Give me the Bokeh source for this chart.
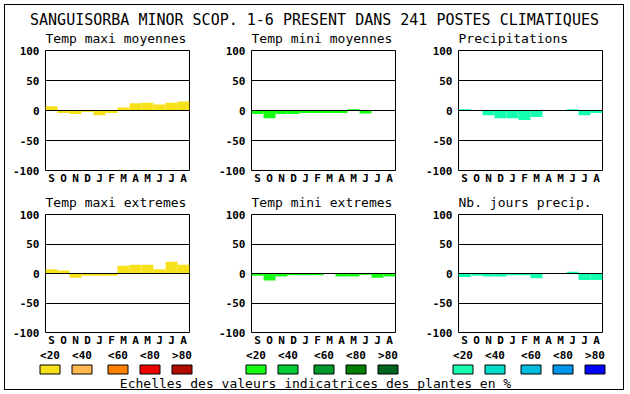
from bokeh.plotting import figure
from bokeh.layouts import column, row
from bokeh.models import FixedTicker, Range1d
from bokeh.embed import file_html
from bokeh.resources import INLINE
from bokeh.core.properties import value

# ---------------- data ----------------
main_title = "SANGUISORBA MINOR SCOP. 1-6 PRESENT DANS 241 POSTES CLIMATIQUES"
months = ["S", "O", "N", "D", "J", "F", "M", "A", "M", "J", "J", "A"]
panel_titles = ["Temp maxi moyennes", "Temp mini moyennes", "Precipitations",
                "Temp maxi extremes", "Temp mini extremes", "Nb. jours precip."]
temp_maxi_moy = [7, -4, -6, -2, -8, -4, 5, 12, 13, 10, 13, 15]
temp_mini_moy = [-6, -13, -6, -6, -4, -4, -4, -4, 2, -5, 0, 0]
precipitations = [2, 0, -8, -13, -13, -16, -11, 0, 0, 2, -8, -4]
temp_maxi_ext = [7, 5, -7, -4, -4, -4, 13, 15, 15, 7, 20, 15]
temp_mini_ext = [-4, -12, -5, -3, -3, -3, 0, -5, -5, -2, -7, -5]
nb_jours_precip = [-6, -4, -5, -5, -3, -3, -8, 0, 0, 3, -11, -11]
y_ticks = [-100, -50, 0, 50, 100]
grid_ticks = [-50, 0, 50]
scale_labels = ["<20", "<40", "<60", "<80", ">80"]
warm_scale = ["#F7E11B", "#FFB950", "#FF8000", "#EE0000", "#B00C00"]
green_scale = ["#14FF14", "#00CC33", "#00992E", "#007F00", "#006420"]
blue_scale = ["#14FFB0", "#00DDCC", "#00BBDD", "#0096EE", "#0000FF"]
footer = "Echelles des valeurs indicatrices des plantes en %"

FONT = "DejaVu Sans Mono"

# ---------------- layout constants (pixels) ----------------
TOTAL_W = 628
HEADER_H = 46          # main title + first row of panel titles
STRIP2_H = 22          # second row of panel titles
FRAME_W, FRAME_H = 144, 120
col_widths = [215, 207, 206]
col_left = [45, 36, 36]
col_right = [26, 27, 26]
row_top = [4, 4]
row_bottom = [18, 15]
LEGEND_H = 45

frame_lefts = []
_x = 0
for _ci in range(3):
    frame_lefts.append(_x + col_left[_ci])
    _x += col_widths[_ci]


def text_strip(y0, h):
    f = figure(width=TOTAL_W, height=h, title=None,
               x_range=Range1d(0, TOTAL_W), y_range=Range1d(y0 + h, y0),
               output_backend="svg", toolbar_location=None,
               x_axis_location=None, y_axis_location=None,
               min_border=0, outline_line_color=None,
               background_fill_color=None, border_fill_color=None)
    f.grid.visible = False
    return f


def make_panel(vals, color, ci, ri):
    p = figure(width=col_widths[ci], height=row_top[ri] + FRAME_H + row_bottom[ri],
               title=None,
               x_range=Range1d(0, 12), y_range=Range1d(-100, 100),
               output_backend="svg", toolbar_location=None,
               min_border_left=col_left[ci], min_border_right=col_right[ci],
               min_border_top=row_top[ri], min_border_bottom=row_bottom[ri])

    centers = [i + 0.5 for i in range(len(months))]
    p.vbar(x=centers, top=vals, bottom=0, width=1.0,
           fill_color=color, line_color=None)

    p.outline_line_color = "black"
    p.outline_line_width = 1
    p.background_fill_color = "white"
    p.border_fill_color = None

    p.xgrid.visible = False
    p.ygrid.ticker = FixedTicker(ticks=grid_ticks)
    p.ygrid.grid_line_color = "black"
    p.ygrid.grid_line_width = 1
    p.ygrid.level = "overlay"

    xa = p.xaxis[0]
    xa.ticker = FixedTicker(ticks=centers)
    xa.major_label_overrides = {c: m for c, m in zip(centers, months)}
    xa.axis_line_color = None
    xa.major_tick_line_color = None
    xa.minor_tick_line_color = None
    xa.major_tick_out = 0
    xa.major_tick_in = 0
    xa.minor_tick_out = 0
    xa.minor_tick_in = 0
    xa.major_label_standoff = 1
    xa.major_label_text_font = FONT
    xa.major_label_text_font_size = "11px"
    xa.major_label_text_font_style = "bold"
    xa.major_label_text_color = "black"

    ya = p.yaxis[0]
    ya.ticker = FixedTicker(ticks=y_ticks)
    ya.major_label_overrides = {t: str(t) for t in y_ticks}
    ya.axis_line_color = None
    ya.major_tick_line_color = None
    ya.minor_tick_line_color = None
    ya.major_tick_out = 0
    ya.major_tick_in = 0
    ya.minor_tick_out = 0
    ya.minor_tick_in = 0
    ya.major_label_standoff = 6
    ya.major_label_text_font = FONT
    ya.major_label_text_font_size = "11px"
    ya.major_label_text_font_style = "bold"
    ya.major_label_text_color = "black"
    return p


series = [temp_maxi_moy, temp_mini_moy, precipitations,
          temp_maxi_ext, temp_mini_ext, nb_jours_precip]
bar_colors = [warm_scale[0], green_scale[0], blue_scale[0]]

panels = []
for k, v in enumerate(series):
    ci, ri = k % 3, k // 3
    panels.append(make_panel(v, bar_colors[ci], ci, ri))

# ---------------- header: main title + first row panel titles ----------------
header = text_strip(0, HEADER_H)
header.text(x=[314], y=[19.5], text=[main_title], text_align="center",
            text_baseline="alphabetic", text_font=value(FONT),
            text_font_size="15px", text_color="black")
header.text(x=frame_lefts, y=[38] * 3, text=panel_titles[:3],
            text_align="left", text_baseline="alphabetic",
            text_font=value(FONT), text_font_size="13px", text_color="black")

row1_h = row_top[0] + FRAME_H + row_bottom[0]
strip2_y0 = HEADER_H + row1_h
strip2 = text_strip(strip2_y0, STRIP2_H)
strip2.text(x=frame_lefts, y=[202] * 3, text=panel_titles[3:],
            text_align="left", text_baseline="alphabetic",
            text_font=value(FONT), text_font_size="13px", text_color="black")

# ---------------- legend ----------------
row2_h = row_top[1] + FRAME_H + row_bottom[1]
leg_top = strip2_y0 + STRIP2_H + row2_h
legend = text_strip(leg_top, LEGEND_H)

box_offsets = [0, 32, 68, 100, 132]
BOX_W, BOX_H = 20, 9
scales = [warm_scale, green_scale, blue_scale]
lefts, rights, fills, lab_x, lab_t = [], [], [], [], []
for ci in range(3):
    g0 = frame_lefts[ci] - 6
    for i, off in enumerate(box_offsets):
        lefts.append(g0 + off + 0.5)
        rights.append(g0 + off + BOX_W + 0.5)
        fills.append(scales[ci][i])
        lab_x.append(g0 + off + BOX_W / 2 + 0.5)
        lab_t.append(scale_labels[i])

box_top = 364.5
legend.quad(left=lefts, right=rights, top=[box_top] * len(lefts),
            bottom=[box_top + BOX_H] * len(lefts), fill_color=fills,
            line_color="black", line_width=1)
legend.text(x=lab_x, y=[354.5] * len(lab_x), text=lab_t,
            text_align="center", text_baseline="alphabetic",
            text_font=value(FONT), text_font_size="11px",
            text_font_style="bold", text_color="black")
legend.text(x=[315], y=[382.5], text=[footer], text_align="center",
            text_baseline="alphabetic", text_font=value(FONT),
            text_font_size="13px", text_color="black")

layout = column(header, row(*panels[:3]), strip2, row(*panels[3:]), legend,
                styles={"outline": "1px solid black", "outline-offset": "-5px"})

open("out.html", "w").write(file_html(layout, INLINE))
